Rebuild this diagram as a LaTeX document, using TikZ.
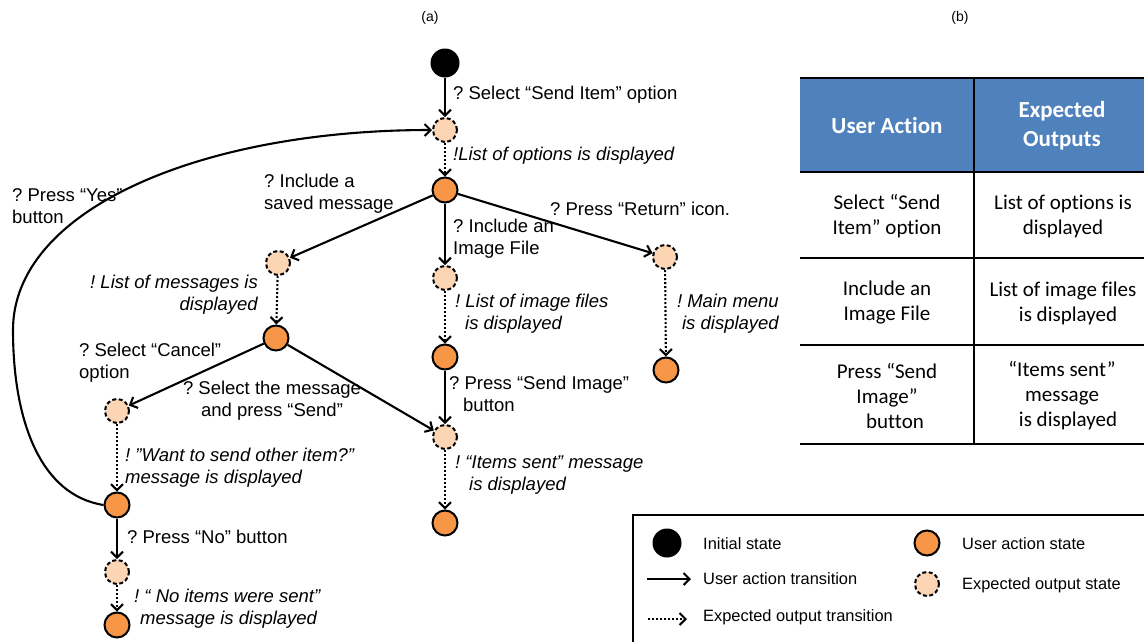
\documentclass[tikz,border=0pt]{standalone}
\usepackage{fontspec}
\setmainfont{Liberation Sans}
\newfontfamily\calfont[Ligatures=NoCommon]{Carlito}
\usetikzlibrary{arrows.meta}
\definecolor{uorange}{HTML}{F79646}
\definecolor{epeach}{HTML}{FCD5B5}
\definecolor{hblue}{HTML}{4F81BD}
\frenchspacing
\begin{document}
\frenchspacing
\begin{tikzpicture}[x=1pt,y=-1pt,
  ustate/.style={circle, draw, line width=2pt, fill=uorange, minimum size=25pt, inner sep=0pt},
  estate/.style={circle, draw, line width=2pt, dash pattern=on 4pt off 2.5pt, fill=epeach, minimum size=24pt, inner sep=0pt},
  istate/.style={circle, fill=black, minimum size=29pt, inner sep=0pt},
  act/.style={line width=2.1pt, -{Straight Barb[length=6pt,width=12pt]}},
  outp/.style={line width=2.1pt, dash pattern=on 2pt off 2pt, -{Straight Barb[length=6pt,width=12pt]}},
  lbl/.style={font=\fontsize{18.5}{22}\selectfont, inner sep=0pt, anchor=west, align=left},
  ilbl/.style={lbl, font=\fontsize{18.5}{22}\selectfont\itshape},
  leg/.style={font=\fontsize{16.4}{20}\selectfont, inner sep=0pt, anchor=west},
  cell/.style={font=\calfont\fontsize{21}{25}\selectfont, inner sep=0pt, align=center},
  hcell/.style={font=\calfont\bfseries\fontsize{23}{29}\selectfont, text=white, inner sep=0pt, align=center}
]
\useasboundingbox (0,0) rectangle (1144,641);
\clip (0,0) rectangle (1144,641);

% titles
\node[font=\fontsize{14}{16}\selectfont] (ta) at (430,18) {(a)};
\node[font=\fontsize{14}{16}\selectfont] (tb) at (960,18) {(b)};

% states
\node[istate] (I) at (445,63) {};
\node[estate] (E1) at (445,130) {};
\node[ustate] (U1) at (445,190) {};
\node[estate] (E2) at (278,263) {};
\node[estate] (E3) at (445,278) {};
\node[estate] (E4) at (665,257) {};
\node[ustate] (U2) at (276,338) {};
\node[ustate] (U3) at (445,357) {};
\node[ustate] (U4) at (666,370) {};
\node[estate] (E5) at (117,411) {};
\node[estate] (E6) at (445,437) {};
\node[ustate] (U5) at (117,505) {};
\node[ustate] (U6) at (445,523) {};
\node[estate] (E7) at (117,572) {};
\node[ustate] (U7) at (117,625) {};

% transitions
\draw[act] (I) -- (E1);
\draw[outp] (E1) -- (U1);
\draw[act] (U1) -- (E2);
\draw[act] (U1) -- (E3);
\draw[act] (U1) -- (E4);
\draw[outp] (E2) -- (U2);
\draw[outp] (E3) -- (U3);
\draw[outp] (E4) -- (U4);
\draw[act] (U2) -- (E5);
\draw[act] (U2) -- (E6);
\draw[act] (U3) -- (E6);
\draw[outp] (E5) -- (U5);
\draw[outp] (E6) -- (U6);
\draw[act] (U5) -- (E7);
\draw[outp] (E7) -- (U7);
\coordinate (cl) at (13,330);
\draw[act] (U5.west) .. controls (40,495) and (13,420) .. (cl)
  .. controls (13,210) and (200,130) .. (E1.west);

% labels
\node[lbl] (l1) at (453,95) {? Select “Send Item” option};
\node[ilbl] (l2) at (453,156) {!List of options is displayed};
\node[lbl] (l3) at (264,194) {? Include a\\saved message};
\node[lbl] (l4) at (453,239) {? Include an\\Image File};
\node[lbl] (l5) at (550,209) {? Press “Return” icon.};
\node[lbl] (l6) at (12,206) {? Press “Yes”\\button};
\node[ilbl, anchor=east, align=right] (l7) at (258,295) {! List of messages is\\displayed};
\node[ilbl] (l8) at (455,314) {! List of image files\\\hspace*{10pt}is displayed};
\node[ilbl, anchor=east, align=right] (l9) at (779,314) {! Main menu\\is displayed};
\node[lbl] (l10) at (79,363) {? Select “Cancel”\\option};
\node[lbl, anchor=center, align=center] (l11) at (272,401) {? Select the message\\and press “Send”};
\node[lbl] (l12) at (449,394) {? Press “Send Image”\\\hspace*{14pt}button};
\node[ilbl] (l13) at (125,468) {! ”Want to send other item?”\\message is displayed};
\node[ilbl] (l14) at (455,475) {! “Items sent” message\\\hspace*{14pt}is displayed};
\node[lbl] (l15) at (127,537) {? Press “No” button};
\node[ilbl] (l16) at (134,609) {! “ No items were sent”\\\hspace*{6pt}message is displayed};

% table
\fill[hblue] (800,79) rectangle (1144,172);
\draw[line width=1.3pt] (974,78) -- (974,444);
\draw[line width=1.3pt] (800,172) -- (1144,172);
\draw[line width=1.3pt] (800,258) -- (1144,258);
\draw[line width=1.3pt] (800,345) -- (1144,345);
\draw[line width=2.6pt] (800,78) -- (1144,78);
\draw[line width=2.6pt] (800,444) -- (1144,444);
\node[hcell] (h1) at (887,126) {User Action};
\node[hcell] (h2) at (1062,126) {Expected\\Outputs};
\node[cell] (c11) at (887,216) {Select “Send\\Item” option};
\node[cell] (c12) at (1063,216) {List of options is\\displayed};
\node[cell] (c21) at (887,303) {Include an\\Image File};
\node[cell] (c22) at (1063,303) {List of image files\\\hspace*{10pt}is displayed};
\node[cell] (c31) at (887,396) {Press “Send\\Image”\\\hspace*{16pt}button};
\node[cell] (c32) at (1062,396) {“Items sent”\\message\\\hspace*{12pt}is displayed};

% legend
\draw[line width=2.4pt] (633,515) rectangle (1160,660);
\node[istate] (li) at (667,543) {};
\node[leg] (lt1) at (703,544) {Initial state};
\node[ustate] (lu) at (927,543) {};
\node[leg] (lt2) at (962,544) {User action state};
\coordinate (la1) at (647,579);
\coordinate (la2) at (691,579);
\draw[act] (la1) -- (la2);
\node[leg] (lt3) at (703,579) {User action transition};
\node[estate] (le) at (927,584) {};
\node[leg] (lt4) at (962,585) {Expected output state};
\coordinate (lb1) at (648,619);
\coordinate (lb2) at (687,619);
\draw[outp] (lb1) -- (lb2);
\node[leg] (lt5) at (703,617) {Expected output transition};
\end{tikzpicture}
\end{document}
